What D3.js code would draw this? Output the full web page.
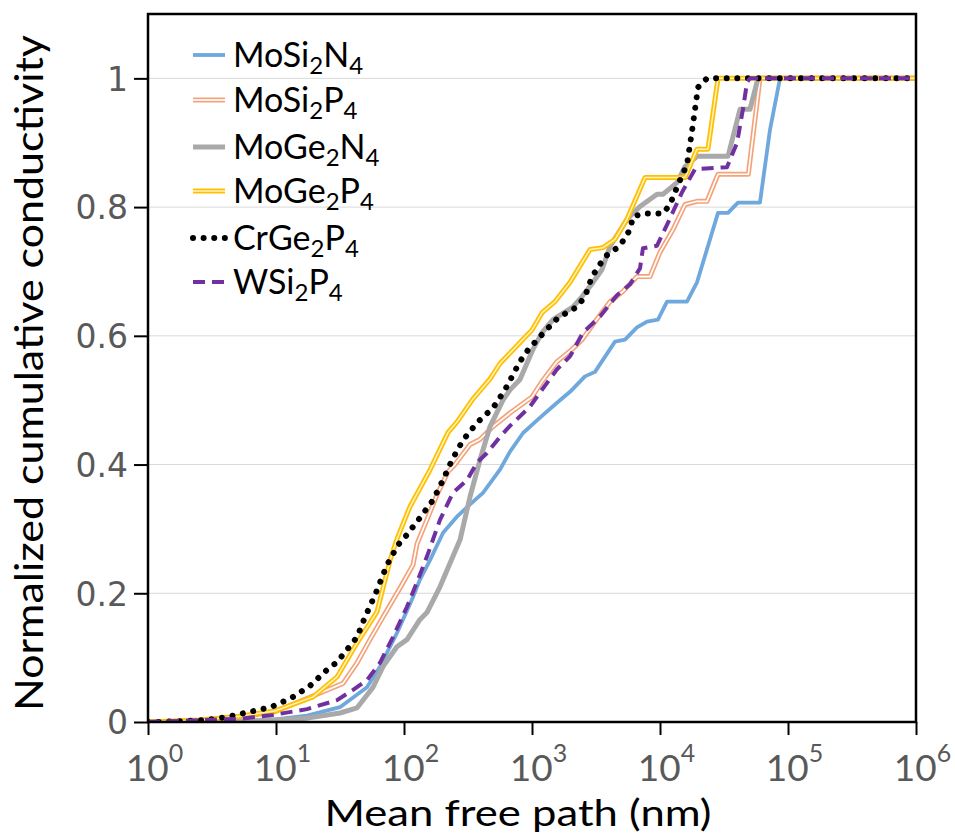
<!DOCTYPE html>
<html>
<head>
<meta charset="utf-8">
<script src="https://cdn.jsdelivr.net/npm/d3@7/dist/d3.min.js"></script>
<style>
  body { margin: 0; background: #fff; }
  svg { display: block; }
</style>
</head>
<body>
<svg id="chart" width="955" height="834"></svg>
<script>
// Cumulative thermal conductivity vs phonon mean free path (nm)
const mfpMoSi2N4 = [1, 6.3, 9.8, 17.5, 31.6, 51.4, 64.9, 88, 117.6, 133, 160, 202, 259, 328, 414, 562, 673, 851, 1155, 1568, 1981, 2594, 3106, 4450, 5330, 6610, 7920, 9640, 11350, 16250, 19450, 28400, 33980, 40670, 60400, 72300, 86600, 1e6];
const kMoSi2N4   = [0, 0.002, 0.004, 0.01, 0.023, 0.054, 0.086, 0.138, 0.194, 0.221, 0.252, 0.294, 0.319, 0.338, 0.356, 0.392, 0.42, 0.449, 0.473, 0.496, 0.513, 0.537, 0.544, 0.591, 0.594, 0.613, 0.622, 0.625, 0.653, 0.653, 0.683, 0.791, 0.791, 0.807, 0.807, 0.92, 1, 1];

const mfpMoSi2P4 = [1, 2.55, 6.3, 9.8, 22.1, 33.4, 43, 54.2, 68.5, 93, 117.6, 126.5, 151, 181, 221, 250, 328, 392, 496, 673, 1000, 1197, 1568, 2054, 2459, 3106, 4068, 5140, 6610, 8350, 10000, 12640, 15680, 19450, 23300, 28400, 49000, 60400, 1e6];
const kMoSi2P4   = [0, 0.002, 0.01, 0.016, 0.045, 0.06, 0.092, 0.128, 0.163, 0.208, 0.244, 0.277, 0.314, 0.353, 0.389, 0.4, 0.431, 0.439, 0.459, 0.48, 0.505, 0.529, 0.56, 0.579, 0.594, 0.622, 0.653, 0.669, 0.692, 0.692, 0.73, 0.765, 0.804, 0.809, 0.809, 0.851, 0.851, 1, 1];

const mfpMoGe2N4 = [1, 3.65, 7.5, 17.5, 31.6, 43, 57.3, 68.5, 88, 105.5, 133, 151, 191, 274, 328, 392, 470, 593, 673, 805, 1018, 1197, 1459, 2091, 2459, 2997, 3524, 4068, 5525, 6980, 9480, 10550, 13580, 15680, 19450, 33980, 42170, 50470, 58300, 1e6];
const kMoGe2N4   = [0, 0.001, 0.002, 0.006, 0.014, 0.022, 0.054, 0.086, 0.117, 0.128, 0.159, 0.17, 0.21, 0.283, 0.35, 0.407, 0.459, 0.5, 0.516, 0.532, 0.579, 0.605, 0.625, 0.645, 0.661, 0.683, 0.703, 0.739, 0.781, 0.801, 0.82, 0.82, 0.838, 0.863, 0.879, 0.879, 0.952, 0.952, 1, 1];

const mfpMoGe2P4 = [1, 2.55, 5.2, 9.8, 19.5, 30, 43, 61.5, 78, 88, 111, 160, 221, 259, 346, 470, 562, 1000, 1200, 1510, 1980, 2840, 3590, 4450, 5520, 7640, 15700, 19450, 23700, 28400, 1e6];
const kMoGe2P4   = [0, 0.003, 0.009, 0.017, 0.039, 0.07, 0.123, 0.171, 0.252, 0.284, 0.334, 0.392, 0.45, 0.466, 0.502, 0.533, 0.557, 0.609, 0.636, 0.653, 0.683, 0.734, 0.737, 0.75, 0.781, 0.846, 0.846, 0.89, 0.89, 1, 1];

const mfpCrGe2P4 = [1, 1.24, 2.8, 4.2, 6.3, 9.1, 13.1, 18.4, 25, 30, 37.8, 43, 49.6, 59.3, 73.6, 89.8, 105.5, 133, 169, 202, 237, 289, 372, 496, 615, 805, 931, 1197, 1596, 2249, 2594, 2943, 3718, 4870, 5830, 6150, 7360, 10550, 11970, 13830, 16250, 17780, 19820, 23300, 1e6];
const kCrGe2P4   = [0, 0, 0.003, 0.008, 0.016, 0.023, 0.037, 0.056, 0.081, 0.093, 0.118, 0.132, 0.163, 0.197, 0.244, 0.275, 0.291, 0.317, 0.345, 0.376, 0.407, 0.438, 0.465, 0.488, 0.516, 0.56, 0.578, 0.602, 0.628, 0.645, 0.661, 0.692, 0.723, 0.74, 0.765, 0.785, 0.79, 0.79, 0.804, 0.835, 0.866, 0.918, 0.986, 1, 1];

const mfpWSi2P4 = [1, 5.2, 9.5, 17.5, 30, 40, 51.4, 64.9, 82, 105.5, 128.6, 151, 191, 241, 311, 372, 445, 562, 673, 964, 1155, 1568, 1981, 2503, 3398, 4613, 5830, 6980, 7360, 9480, 11550, 14860, 18760, 33350, 40000, 44460, 47860, 50470, 1e6];
const kWSi2P4   = [0, 0.005, 0.011, 0.02, 0.034, 0.05, 0.065, 0.092, 0.132, 0.179, 0.221, 0.257, 0.314, 0.356, 0.376, 0.403, 0.418, 0.443, 0.46, 0.49, 0.512, 0.548, 0.568, 0.605, 0.63, 0.663, 0.68, 0.705, 0.736, 0.74, 0.776, 0.823, 0.859, 0.862, 0.9, 0.952, 0.994, 1, 1];

const xTickValues = [1, 10, 100, 1000, 10000, 100000, 1000000];
const yTickValues = [0, 0.2, 0.4, 0.6, 0.8, 1];
const xTitle = "Mean free path (nm)";
const yTitle = "Normalized cumulative conductivity";

// Legend labels: [text, isSubscript] runs
const labelMoSi2N4 = [["MoSi", 0], ["2", 1], ["N", 0], ["4", 1]];
const labelMoSi2P4 = [["MoSi", 0], ["2", 1], ["P", 0], ["4", 1]];
const labelMoGe2N4 = [["MoGe", 0], ["2", 1], ["N", 0], ["4", 1]];
const labelMoGe2P4 = [["MoGe", 0], ["2", 1], ["P", 0], ["4", 1]];
const labelCrGe2P4 = [["CrGe", 0], ["2", 1], ["P", 0], ["4", 1]];
const labelWSi2P4  = [["WSi", 0], ["2", 1], ["P", 0], ["4", 1]];

// Line styles per material (drawing order = list order)
const series = [
  { mfp: mfpMoSi2N4, k: kMoSi2N4, label: labelMoSi2N4, strokes: [{ color: "#6fa8dc", width: 3.8 }] },
  { mfp: mfpMoSi2P4, k: kMoSi2P4, label: labelMoSi2P4, strokes: [{ color: "#f4a27a", width: 5 }, { color: "#ffffff", width: 1.7 }] },
  { mfp: mfpMoGe2N4, k: kMoGe2N4, label: labelMoGe2N4, strokes: [{ color: "#a9a9a9", width: 5 }] },
  { mfp: mfpMoGe2P4, k: kMoGe2P4, label: labelMoGe2P4, strokes: [{ color: "#ffc000", width: 5 }, { color: "#fff3c4", width: 1.5 }] },
  { mfp: mfpCrGe2P4, k: kCrGe2P4, label: labelCrGe2P4, strokes: [{ color: "#000000", width: 6, dash: "0.01 10.6", cap: "round" }] },
  { mfp: mfpWSi2P4,  k: kWSi2P4,  label: labelWSi2P4,  strokes: [{ color: "#7030a0", width: 4, dash: "12 7" }] }
];
// Legend rows follow the same order
const legendRowY = [55, 100, 147, 191, 238, 282];

const svg = d3.select("#chart");
const plotLeft = 148, plotRight = 916, plotTop = 14, plotBottom = 722;

const x = d3.scaleLog().domain([1, 1e6]).range([plotLeft, plotRight]);
const y = d3.scaleLinear().domain([0, 1.1]).range([plotBottom, plotTop]);

// horizontal gridlines
svg.append("g")
  .selectAll("line")
  .data(yTickValues.filter(d => d > 0))
  .join("line")
  .attr("x1", plotLeft).attr("x2", plotRight)
  .attr("y1", d => y(d)).attr("y2", d => y(d))
  .attr("stroke", "#d9d9d9").attr("stroke-width", 1);

// data lines
svg.append("clipPath").attr("id", "plotclip")
  .append("rect").attr("x", plotLeft).attr("y", plotTop - 4)
  .attr("width", plotRight - plotLeft).attr("height", plotBottom - plotTop + 4);

const line = d3.line().x(d => x(d[0])).y(d => y(d[1]));
const plot = svg.append("g").attr("clip-path", "url(#plotclip)");
series.forEach(s => {
  const pts = s.mfp.map((m, i) => [m, s.k[i]]);
  s.strokes.forEach(st => {
    plot.append("path")
      .attr("d", line(pts))
      .attr("fill", "none")
      .attr("stroke", st.color)
      .attr("stroke-width", st.width)
      .attr("stroke-linejoin", "round")
      .attr("stroke-linecap", st.cap || "butt")
      .attr("stroke-dasharray", st.dash || null);
  });
});

// frame
svg.append("rect")
  .attr("x", plotLeft).attr("y", plotTop)
  .attr("width", plotRight - plotLeft).attr("height", plotBottom - plotTop)
  .attr("fill", "none").attr("stroke", "#000").attr("stroke-width", 2.5);

// y axis
const yAxis = svg.append("g")
  .attr("transform", `translate(${plotLeft},0)`)
  .call(d3.axisLeft(y).tickValues(yTickValues).tickSize(14).tickPadding(6)
    .tickFormat(d => (d === 0 || d === 1) ? String(d) : d.toFixed(1)));
yAxis.select(".domain").remove();
yAxis.selectAll(".tick line").attr("stroke", "#000").attr("stroke-width", 2);
yAxis.selectAll(".tick text")
  .attr("fill", "#595959")
  .attr("dy", "0.36em")
  .style("font-family", "'DejaVu Sans', Verdana, sans-serif")
  .style("font-size", "33px");

// x axis
const xAxis = svg.append("g")
  .attr("transform", `translate(0,${plotBottom})`)
  .call(d3.axisBottom(x).tickValues(xTickValues).tickSize(13).tickFormat(""));
xAxis.select(".domain").remove();
xAxis.selectAll(".tick line").attr("stroke", "#000").attr("stroke-width", 2);
xAxis.selectAll(".tick")
  .append("text")
  .attr("x", 6)
  .attr("y", 59)
  .attr("text-anchor", "middle")
  .attr("fill", "#595959")
  .style("font-family", "Lato, 'Open Sans', sans-serif")
  .style("font-size", "37px")
  .each(function(d) {
    const t = d3.select(this);
    t.append("tspan").text("10");
    t.append("tspan").attr("dy", -19).style("font-size", "25px").text(String(Math.round(Math.log10(d))));
  });

// axis titles
svg.append("text")
  .attr("x", 518).attr("y", 826)
  .attr("text-anchor", "middle")
  .attr("textLength", 387)
  .attr("lengthAdjust", "spacingAndGlyphs")
  .style("font-family", "Lato, 'Open Sans', sans-serif")
  .style("font-size", "36px")
  .attr("fill", "#000")
  .text(xTitle);

svg.append("text")
  .attr("transform", `translate(43,373) rotate(-90)`)
  .attr("text-anchor", "middle")
  .attr("textLength", 676)
  .attr("lengthAdjust", "spacingAndGlyphs")
  .style("font-family", "Lato, 'Open Sans', sans-serif")
  .style("font-size", "38px")
  .attr("fill", "#000")
  .text(yTitle);

// legend
const legend = svg.append("g");
series.forEach((s, i) => {
  const cy = legendRowY[i];
  s.strokes.forEach(st => {
    legend.append("line")
      .attr("x1", 193).attr("x2", 225)
      .attr("y1", cy).attr("y2", cy)
      .attr("stroke", st.color)
      .attr("stroke-width", st.width)
      .attr("stroke-linecap", st.cap || "butt")
      .attr("stroke-dasharray", st.dash || null);
  });
  const t = legend.append("text")
    .attr("x", 233).attr("y", cy + 12)
    .style("font-family", "Lato, 'Open Sans', sans-serif")
    .style("font-size", "34px")
    .attr("fill", "#000");
  let shifted = false;
  s.label.forEach(([txt, sub]) => {
    const ts = t.append("tspan").text(txt);
    if (sub) {
      ts.style("font-size", "24px");
      if (!shifted) { ts.attr("dy", 7); shifted = true; }
    } else if (shifted) {
      ts.attr("dy", -7); shifted = false;
    }
  });
});
</script>
</body>
</html>
